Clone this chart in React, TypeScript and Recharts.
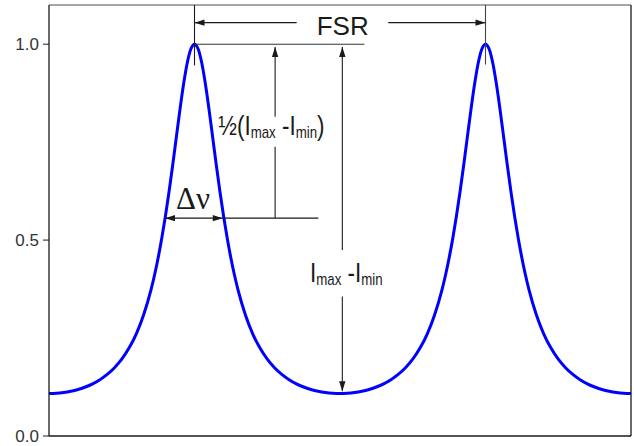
import React from 'react';
import { LineChart, Line, XAxis, YAxis, ReferenceLine, ReferenceDot } from 'recharts';

// Relative frequency (in units of FSR)
const frequency = [
  0, 0.025, 0.05, 0.075, 0.1, 0.125, 0.15, 0.175, 0.2, 0.225, 0.25, 0.275, 0.3, 0.325, 0.35,
  0.3625, 0.375, 0.3875, 0.4, 0.4125, 0.425, 0.4375, 0.45, 0.4625, 0.475, 0.4875, 0.5,
  0.5125, 0.525, 0.5375, 0.55, 0.5625, 0.575, 0.5875, 0.6, 0.6125, 0.625, 0.6375,
  0.65, 0.675, 0.7, 0.725, 0.75, 0.775, 0.8, 0.825, 0.85, 0.875, 0.9, 0.925, 0.95, 0.975, 1.0,
  1.025, 1.05, 1.075, 1.1, 1.125, 1.15, 1.175, 1.2, 1.225, 1.25, 1.275, 1.3, 1.325, 1.35,
  1.3625, 1.375, 1.3875, 1.4, 1.4125, 1.425, 1.4375, 1.45, 1.4625, 1.475, 1.4875, 1.5,
  1.5125, 1.525, 1.5375, 1.55, 1.5625, 1.575, 1.5875, 1.6, 1.6125, 1.625, 1.6375,
  1.65, 1.675, 1.7, 1.725, 1.75, 1.775, 1.8, 1.825, 1.85, 1.875, 1.9, 1.925, 1.95, 1.975, 2.0,
];

// Transmitted intensity
const intensity = [
  0.1087, 0.1093, 0.1111, 0.1142, 0.1188, 0.125, 0.1332, 0.1437, 0.1571, 0.1742, 0.1961, 0.2243, 0.2609, 0.3088, 0.3717,
  0.4103, 0.4544, 0.5044, 0.5608, 0.6234, 0.6911, 0.7621, 0.8329, 0.8982, 0.9519, 0.9875, 1.0,
  0.9875, 0.9519, 0.8982, 0.8329, 0.7621, 0.6911, 0.6234, 0.5608, 0.5044, 0.4544, 0.4103,
  0.3717, 0.3088, 0.2609, 0.2243, 0.1961, 0.1742, 0.1571, 0.1437, 0.1332, 0.125, 0.1188, 0.1142, 0.1111, 0.1093, 0.1087,
  0.1093, 0.1111, 0.1142, 0.1188, 0.125, 0.1332, 0.1437, 0.1571, 0.1742, 0.1961, 0.2243, 0.2609, 0.3088, 0.3717,
  0.4103, 0.4544, 0.5044, 0.5608, 0.6234, 0.6911, 0.7621, 0.8329, 0.8982, 0.9519, 0.9875, 1.0,
  0.9875, 0.9519, 0.8982, 0.8329, 0.7621, 0.6911, 0.6234, 0.5608, 0.5044, 0.4544, 0.4103,
  0.3717, 0.3088, 0.2609, 0.2243, 0.1961, 0.1742, 0.1571, 0.1437, 0.1332, 0.125, 0.1188, 0.1142, 0.1111, 0.1093, 0.1087,
];

const yTicks = [0, 0.5, 1.0];

const data = frequency.map((f, i) => ({ f, v: intensity[i] }));

const INK = '#1a1a1a';
const SANS = '"Liberation Sans", Arial, Helvetica, sans-serif';
const SERIF = '"Liberation Serif", "Times New Roman", serif';

function headPath(tx: number, ty: number, fx: number, fy: number, len = 10, w = 3.2) {
  const dx = tx - fx;
  const dy = ty - fy;
  const L = Math.hypot(dx, dy) || 1;
  const ux = dx / L;
  const uy = dy / L;
  const bx = tx - ux * len;
  const by = ty - uy * len;
  return `M${tx},${ty}L${bx - uy * w},${by + ux * w}L${bx + uy * w},${by - ux * w}Z`;
}

const arrowShape = (head: 'none' | 'end' | 'both', color = INK) => (p: any) => {
  const { x1, y1, x2, y2 } = p;
  return (
    <g>
      <line x1={x1} y1={y1} x2={x2} y2={y2} stroke={color} strokeWidth={1.1} />
      {(head === 'end' || head === 'both') && <path d={headPath(x2, y2, x1, y1)} fill={color} />}
      {head === 'both' && <path d={headPath(x1, y1, x2, y2)} fill={color} />}
    </g>
  );
};

type Seg = { a: [number, number]; b: [number, number]; head: 'none' | 'end' | 'both'; color?: string };

const segments: Seg[] = [
  { a: [0.5, 1.1], b: [0.5, 0.946], head: 'none' },
  { a: [1.5, 1.1], b: [1.5, 0.948], head: 'none', color: '#444' },
  { a: [0.851, 1.055], b: [0.5, 1.055], head: 'end' },
  { a: [1.166, 1.055], b: [1.5, 1.055], head: 'end' },
  { a: [0.5, 1.0], b: [1.0836, 1.0], head: 'none', color: '#333' },
  { a: [0.777, 0.815], b: [0.777, 0.993], head: 'end' },
  { a: [0.777, 0.556], b: [0.777, 0.738], head: 'none' },
  { a: [0.3986, 0.556], b: [0.597, 0.556], head: 'both' },
  { a: [0.597, 0.556], b: [0.9256, 0.556], head: 'none' },
  { a: [1.008, 0.475], b: [1.008, 0.993], head: 'end' },
  { a: [1.008, 0.356], b: [1.008, 0.114], head: 'end' },
];

const fsrLabel = (p: any) => (
  <text x={p.cx} y={p.cy} fontSize={26} fill={INK} fontFamily={SANS}>FSR</text>
);

const halfLabel = (p: any) => (
  <g transform={`translate(${p.cx},${p.cy}) scale(0.83,1)`}>
    <text x={0} y={0} fontSize={27} fill={INK} fontFamily={SANS}>
      ½(I
      <tspan fontSize={16} dy={3}>max</tspan>
      <tspan dy={-3}> -I</tspan>
      <tspan fontSize={16} dy={3}>min</tspan>
      <tspan dy={-3}>)</tspan>
    </text>
  </g>
);

const diffLabel = (p: any) => (
  <g transform={`translate(${p.cx},${p.cy}) scale(0.83,1)`}>
    <text x={0} y={0} fontSize={27} fill={INK} fontFamily={SANS}>
      I
      <tspan fontSize={16} dy={3}>max</tspan>
      <tspan dy={-3}> -I</tspan>
      <tspan fontSize={16} dy={3}>min</tspan>
    </text>
  </g>
);

const dnuLabel = (p: any) => (
  <text x={p.cx} y={p.cy} fontSize={31} fill={INK} fontFamily={SERIF}>Δν</text>
);

export default function App() {
  return (
    <div style={{ position: 'absolute', left: 0, top: 0, background: '#fff' }}>
      <LineChart width={634} height={446} data={data} margin={{ top: 5, right: 3, bottom: 9, left: 0 }}>
        <XAxis
          dataKey="f"
          type="number"
          domain={[0, 2]}
          allowDataOverflow
          tick={false}
          tickLine={false}
          height={1}
          axisLine={{ stroke: INK, strokeWidth: 1.3 }}
        />
        <YAxis
          type="number"
          domain={[0, 1.1]}
          allowDataOverflow
          ticks={yTicks}
          tickFormatter={(v: number) => v.toFixed(1)}
          width={49}
          tickSize={6}
          tickMargin={4}
          axisLine={{ stroke: INK, strokeWidth: 1.3 }}
          tickLine={{ stroke: INK }}
          tick={{ fill: '#333', fontSize: 17, fontFamily: SANS }}
        />
        <ReferenceLine y={1.1} stroke="#888" strokeWidth={1.3} />
        <ReferenceLine x={2} stroke={INK} strokeWidth={1.3} />
        <Line
          dataKey="v"
          type="monotone"
          stroke="#0000ff"
          strokeWidth={3}
          dot={false}
          isAnimationActive={false}
        />
        {segments.map((s, i) => (
          <ReferenceLine
            key={i}
            segment={[{ x: s.a[0], y: s.a[1] }, { x: s.b[0], y: s.b[1] }]}
            shape={arrowShape(s.head, s.color)}
          />
        ))}
        <ReferenceDot x={0.92} y={1.023} r={1} shape={fsrLabel} />
        <ReferenceDot x={0.5818} y={0.768} r={1} shape={halfLabel} />
        <ReferenceDot x={0.897} y={0.394} r={1} shape={diffLabel} />
        <ReferenceDot x={0.4364} y={0.579} r={1} shape={dnuLabel} />
      </LineChart>
    </div>
  );
}
